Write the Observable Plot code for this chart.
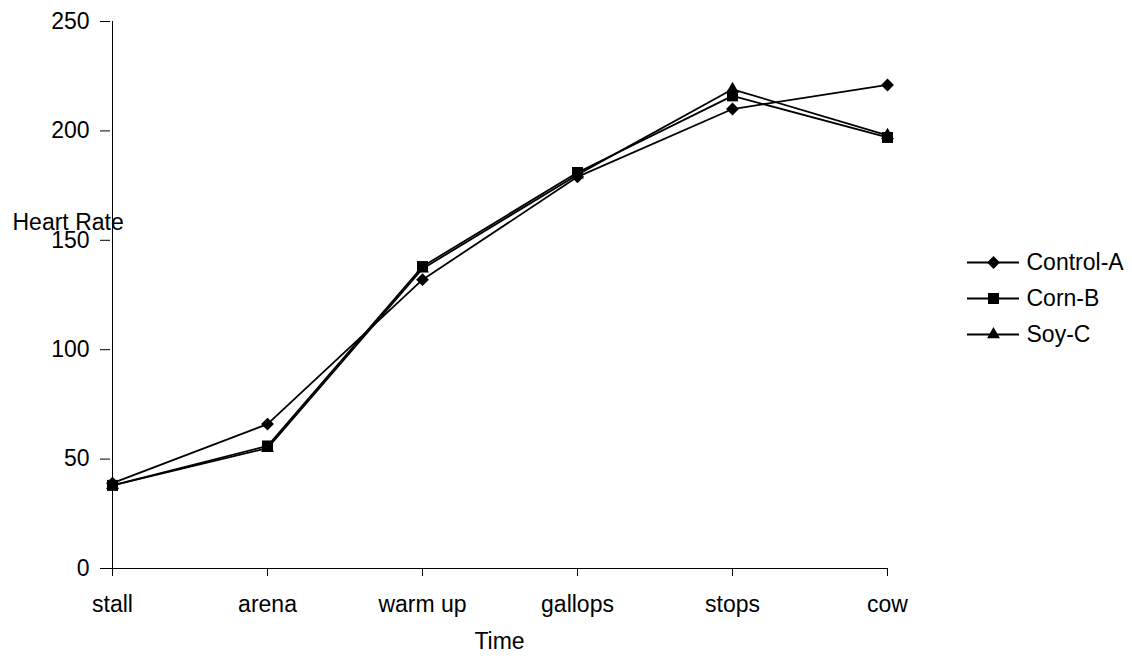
<!DOCTYPE html>
<html>
<head>
<meta charset="utf-8">
<script src="https://cdn.jsdelivr.net/npm/d3@7"></script>
<script src="https://cdn.jsdelivr.net/npm/@observablehq/plot@0.6"></script>
<style>
  html, body { margin: 0; padding: 0; background: #fff; }
  #chart { position: relative; width: 1132px; height: 656px; }
  #chart > svg { position: absolute; left: 0; top: 0; }
</style>
</head>
<body>
<div id="chart"></div>
<script>
// Heart rate of the three feed groups at each stage of the ride
const times = ["stall", "arena", "warm up", "gallops", "stops", "cow"];
const seriesNames = ["Control-A", "Corn-B", "Soy-C"];
const controlA = [39, 66, 132, 179, 210, 221];
const cornB = [38, 56, 138, 181, 216, 197];
const soyC = [38, 55, 137, 180, 219, 198];
const yTicks = [0, 50, 100, 150, 200, 250];

const seriesValues = [controlA, cornB, soyC];
const symbols = ["diamond2", "square", "triangle"];
const radii = [5.8, 6.2, 4.8];

const rows = seriesNames.flatMap((name, i) =>
  times.map((t, j) => ({series: name, time: t, value: seriesValues[i][j]}))
);

const fs = 23;
const font = {fontFamily: "'Liberation Sans', Arial, sans-serif", fontSize: fs + "px", color: "black", background: "white"};

const chart = Plot.plot({
  width: 1132,
  height: 656,
  marginLeft: 110,
  marginRight: 244,
  marginTop: 21,
  marginBottom: 88,
  style: font,
  x: {type: "point", domain: times, padding: 0},
  y: {domain: [0, 250]},
  marks: [
    Plot.axisY({ticks: yTicks, tickSize: 10, tickPadding: 11, label: null, fontSize: fs}),
    Plot.axisX({tickSize: 8, tickPadding: 19, label: null, fontSize: fs}),
    Plot.ruleY([0], {stroke: "black", strokeWidth: 1}),
    Plot.ruleX([times[0]], {y1: 0, y2: 250, stroke: "black", strokeWidth: 1}),
    Plot.line(rows, {x: "time", y: "value", z: "series", stroke: "black", strokeWidth: 1.8}),
    ...seriesNames.map((name, i) =>
      Plot.dot(rows.filter(d => d.series === name), {
        x: "time", y: "value", symbol: symbols[i], r: radii[i], fill: "black", stroke: "none"
      })
    ),
    Plot.text(["Time"], {frameAnchor: "bottom", lineAnchor: "middle", dy: 73, fontSize: fs, fill: "black"}),
    Plot.text(["Heart Rate"], {frameAnchor: "top-left", textAnchor: "start", lineAnchor: "middle", dx: -98, dy: 201, fontSize: fs, fill: "black"})
  ]
});

// Legend: a short line with the series marker, followed by the series name
const legend = Plot.plot({
  width: 1132,
  height: 656,
  marginLeft: 967,
  marginRight: 113,
  marginTop: 262,
  marginBottom: 322,
  style: {...font, background: "transparent"},
  x: {domain: [0, 1], axis: null},
  y: {type: "point", domain: seriesNames, padding: 0, axis: null},
  marks: [
    Plot.ruleY(seriesNames, {y: d => d, x1: 0, x2: 1, stroke: "black", strokeWidth: 1.8}),
    ...seriesNames.map((name, i) =>
      Plot.dot([name], {x: 0.5, y: d => d, symbol: symbols[i], r: radii[i], fill: "black", stroke: "none"})
    ),
    Plot.text(seriesNames, {x: 1, y: d => d, text: d => d, textAnchor: "start", dx: 7, fontSize: fs, fill: "black"})
  ]
});

const host = document.getElementById("chart");
host.appendChild(chart);
host.appendChild(legend);
</script>
</body>
</html>
